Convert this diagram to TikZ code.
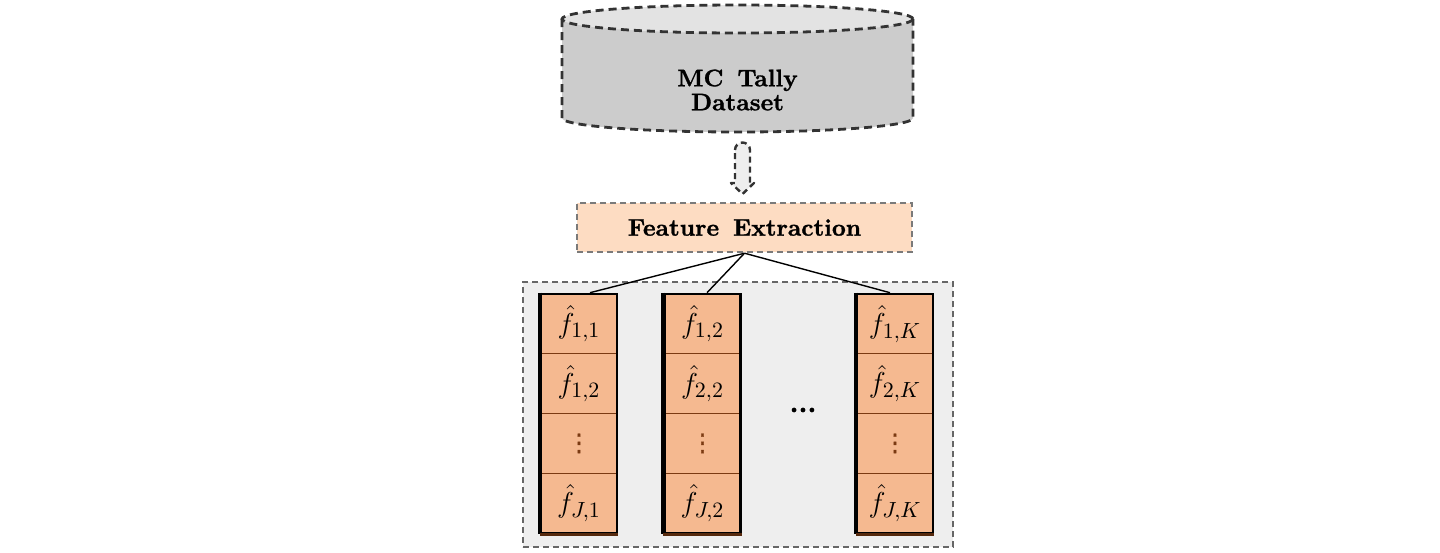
\documentclass[tikz,border=0pt]{standalone}
\usepackage{amsmath}
\usepackage{fontspec}
\newfontfamily\titlefont{lmroman10-bold}[Extension=.otf,FakeBold=1.2]
\newfontfamily\vdotfont{DejaVu Sans}[FakeBold=1.5]
\usetikzlibrary{calc}
\definecolor{dbbody}{HTML}{CCCCCC}
\definecolor{dbtop}{HTML}{E3E3E3}
\definecolor{dbdash}{HTML}{333333}
\definecolor{fefill}{HTML}{FDDCC2}
\definecolor{fedash}{HTML}{7A7A7A}
\definecolor{grpfill}{HTML}{EEEEEE}
\definecolor{grpdash}{HTML}{666666}
\definecolor{cellfill}{HTML}{F5B990}
\definecolor{celldiv}{HTML}{7B3A12}
\begin{document}
\begin{tikzpicture}[x=0.5pt,y=-0.5pt,
  dbline/.style={draw=dbdash,line width=1.4pt,dash pattern=on 4pt off 2.5pt},
  titletext/.style={font=\fontsize{12}{12}\selectfont\titlefont,align=center,inner sep=0pt},
  febox/.style={draw=fedash,fill=fefill,line width=1.2pt,dash pattern=on 3pt off 2pt,
    minimum width=167.5pt,minimum height=24.5pt,inner sep=0pt,font=\fontsize{12}{12}\selectfont\titlefont},
  grpbox/.style={draw=grpdash,fill=grpfill,line width=1.2pt,dash pattern=on 3pt off 2pt,
    minimum width=215pt,minimum height=132.5pt,inner sep=0pt},
  cell/.style={draw=celldiv,fill=cellfill,line width=0.5pt,minimum width=38pt,minimum height=29.875pt,
    inner sep=0pt,font=\fontsize{15}{18}\selectfont},
  vcell/.style={cell,text=celldiv,font=\fontsize{12}{14}\selectfont\vdotfont},
  colbox/.style={draw=black,line width=1.3pt,minimum width=38pt,minimum height=119.5pt,inner sep=0pt},
  colleft/.style={draw=black,line width=2pt},
  colbottom/.style={draw=celldiv!70!black,line width=1.5pt},
  link/.style={draw=black,line width=0.7pt},
  arrowline/.style={draw=dbdash,fill=grpfill,line width=1.2pt,dash pattern=on 3pt off 2pt,line join=round}
]
\useasboundingbox (0,0) rectangle (1440,552);

% database cylinder
\fill[dbbody] (562,19) -- (562,118) arc[start angle=180,end angle=0,x radius=175.5,y radius=14] -- (913,19) -- cycle;
\fill[dbtop] (737.5,19) ellipse [x radius=175.5, y radius=14];
\draw[dbline] (737.5,19) ellipse [x radius=175.5, y radius=14];
\draw[dbline] (562,19) -- (562,118) arc[start angle=180,end angle=0,x radius=175.5,y radius=14] -- (913,19);
\node[titletext] (db) at (737.5,90) {MC\hspace{7pt}Tally\\Dataset};

% hollow arrow
\draw[arrowline] (735,150) arc[start angle=180,end angle=0,x radius=7.5,y radius=-7.5] -- (750,183) -- (754,183) -- (742.5,194) -- (731,183) -- (735,183) -- cycle;

% feature extraction
\node[febox] (fe) at (744.5,227.5) {Feature\hspace{7pt}Extraction};

% group box
\node[grpbox] (grp) at (738,414.5) {};

% column 1
\node[cell] (c11) at (579,323.9) {$\hat{f}_{1,1}$};
\node[cell] (c12) at (579,383.6) {$\hat{f}_{1,2}$};
\node[vcell] (c13) at (579,443.4) {⋮};
\node[cell] (c14) at (579,503.1) {$\hat{f}_{J,1}$};
\node[colbox] (col1) at (579,413.5) {};
% column 2
\node[cell] (c21) at (702.5,323.9) {$\hat{f}_{1,2}$};
\node[cell] (c22) at (702.5,383.6) {$\hat{f}_{2,2}$};
\node[vcell] (c23) at (702.5,443.4) {⋮};
\node[cell] (c24) at (702.5,503.1) {$\hat{f}_{J,2}$};
\node[colbox] (col2) at (702.5,413.5) {};
% column K
\node[cell] (c31) at (895,323.9) {$\hat{f}_{1,K}$};
\node[cell] (c32) at (895,383.6) {$\hat{f}_{2,K}$};
\node[vcell] (c33) at (895,443.4) {⋮};
\node[cell] (c34) at (895,503.1) {$\hat{f}_{J,K}$};
\node[colbox] (col3) at (895,413.5) {};

% heavier left and brown bottom edges of the columns
\foreach \c in {col1,col2,col3}{
  \draw[colleft] (\c.north west) -- (\c.south west);
  \draw[colbottom] (\c.south west) -- (\c.south east);
}

% dots between columns
\node[font=\fontsize{14}{16}\selectfont\titlefont] (dots) at (803,410) {...};

% connectors
\coordinate (e1) at ($(col1.north)+(11,0)$);
\coordinate (e2) at ($(col2.north)+(4.5,0)$);
\coordinate (e3) at ($(col3.north)+(-5,0)$);
\draw[link] (fe.south) -- (e1);
\draw[link] (fe.south) -- (e2);
\draw[link] (fe.south) -- (e3);
\end{tikzpicture}
\end{document}
